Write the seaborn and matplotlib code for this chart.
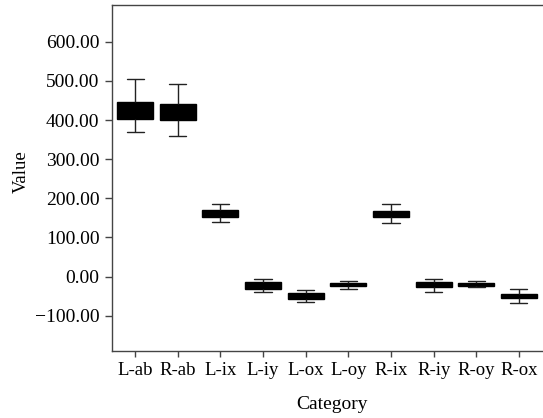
import numpy as np
import pandas as pd
import matplotlib
matplotlib.use("Agg")
import matplotlib.pyplot as plt
import seaborn as sns

categories = ["L-ab", "R-ab", "L-ix", "L-iy", "L-ox", "L-oy", "R-ix", "R-iy", "R-oy", "R-ox"]
# five-number summaries: whisker low, Q1, median, Q3, whisker high
wlow = [369, 359, 139, -40, -65, -31, 136, -38, -27, -68]
q1 = [403, 399, 152, -31, -56, -24.5, 153, -25.5, -23.7, -53.6]
med = [424, 420, 160, -22, -49, -21, 160, -19, -20, -49]
q3 = [445, 442, 169, -14, -42, -17, 167, -13.5, -16, -44]
whigh = [505, 491, 185, -5, -33, -10, 185, -5, -10, -32]

rows = []
for c, a, b, m, d, e in zip(categories, wlow, q1, med, q3, whigh):
    for v in (a, b, m, d, e):
        rows.append({"Category": c, "Value": v})
df = pd.DataFrame(rows)

sns.set_theme(style="white")
plt.rcParams['font.family'] = ['Liberation Serif', 'DejaVu Serif']

fig = plt.figure(figsize=(5.43, 4.18), dpi=100)
ax = fig.add_axes([112/543, 67/418, 430/543, 346/418])

sns.boxplot(data=df, x="Category", y="Value", order=categories, ax=ax,
            whis=(0, 100), width=0.84, color="black", linecolor="black",
            linewidth=1.0, fliersize=0,
            boxprops=dict(facecolor="black", edgecolor="black"),
            whiskerprops=dict(color="#222222"), capprops=dict(color="#222222"),
            medianprops=dict(color="black"), capwidths=0.4)

ax.set_ylim(-190, 694)
ax.set_xlim(-0.54, 9.54)
ax.set_yticks([-100, 0, 100, 200, 300, 400, 500, 600])
ax.set_yticklabels([f"{v:.2f}".replace("-", "\u2212") for v in [-100, 0, 100, 200, 300, 400, 500, 600]])

for s in ["left", "bottom", "top"]:
    ax.spines[s].set_color("#444444")
    ax.spines[s].set_linewidth(1.0)
ax.spines["right"].set_visible(False)

ax.tick_params(axis="y", which="both", left=True, length=5, width=1, color="#444444",
               labelsize=14, pad=4, labelcolor="black")
ax.tick_params(axis="x", which="both", bottom=True, length=4, width=1, color="#444444",
               labelsize=13.5, pad=4, labelcolor="black")

ax.set_xlabel("Category", fontsize=14, labelpad=12, color="black")
ax.set_ylabel("Value", fontsize=13.5, labelpad=4, color="black")
ax.yaxis.label.set_y(0.519)
ax.xaxis.label.set_x(0.512)

fig.savefig("out.png", dpi=100)
